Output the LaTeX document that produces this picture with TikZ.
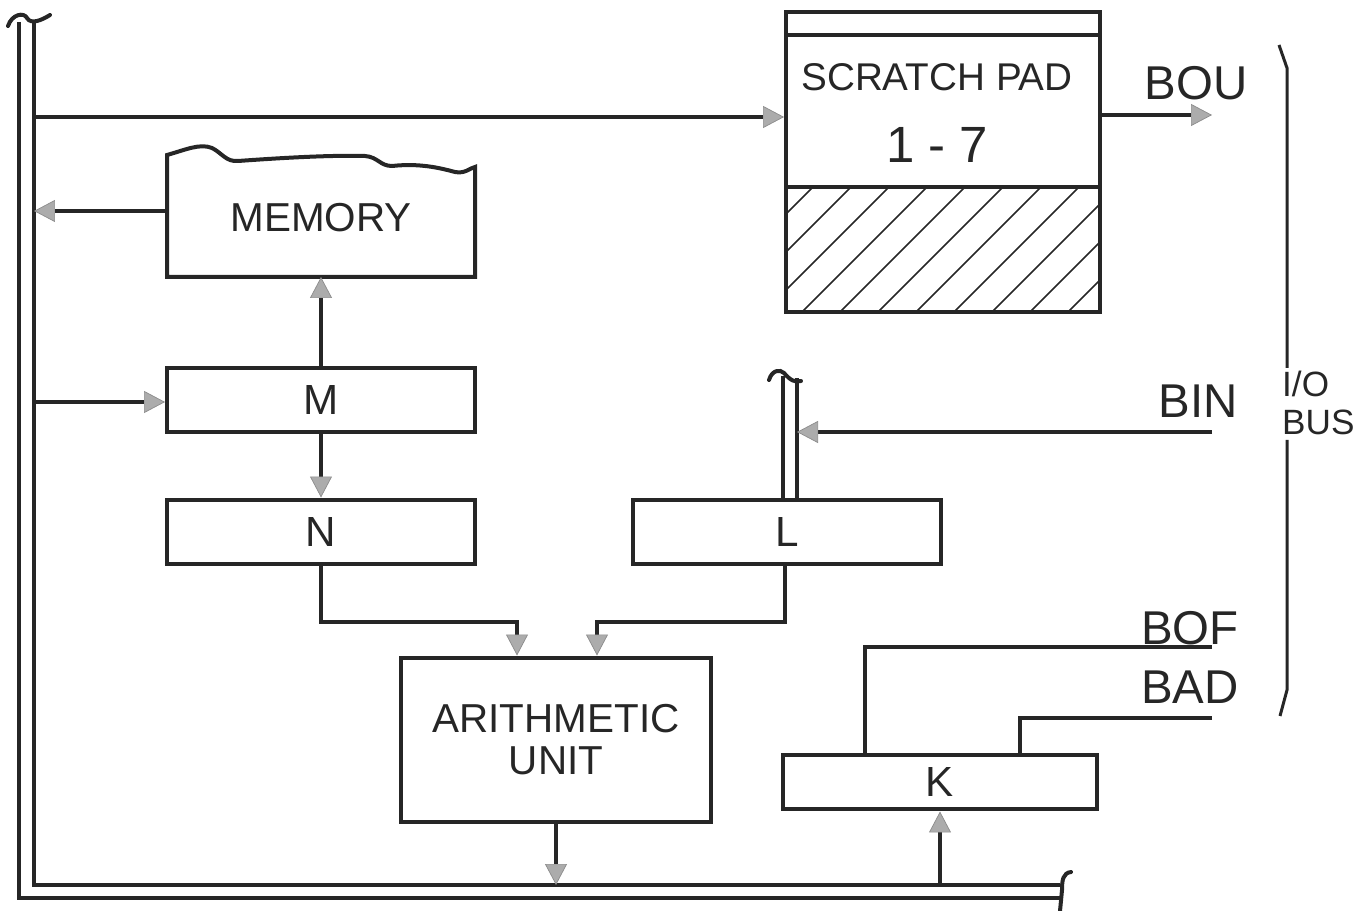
\documentclass[tikz,border=0pt]{standalone}
\usepackage{fontspec}
\setmainfont{Liberation Sans}
\usetikzlibrary{arrows.meta,positioning}
\tikzset{
  wire/.style={line width=0.08cm, draw=black!85},
  arr/.style={wire, -{Triangle[length=0.42cm,width=0.44cm,fill=gray!65,color=gray!90,line width=0.4pt]}},
  regbox/.style={draw=black!85, line width=0.08cm, minimum width=6.16cm, minimum height=1.3cm,
    inner sep=0pt, font=\fontsize{24}{26}\selectfont, text=black!85},
  sig/.style={font=\fontsize{27}{29}\selectfont, text=black!85},
}
\begin{document}
\begin{tikzpicture}[x=0.02cm,y=-0.02cm]
  \useasboundingbox (0,0) rectangle (1355,911);
  % registers and units
  \node[regbox] (M) at (321,400) {M};
  \node[regbox] (N) at (321,532) {N};
  \node[regbox, minimum width=6.18cm] (L) at (787,532) {L};
  \node[regbox, minimum width=6.28cm, minimum height=1.1cm] (K) at (940,782) {K};
  \node[regbox, minimum width=6.22cm, minimum height=3.3cm, align=center,
    font=\fontsize{23}{24}\selectfont] (AU) at (556,740) {ARITHMETIC\\UNIT};
  % memory with torn top edge
  \draw[wire] (167,277) -- (167,155) .. controls (185,150) and (200,143) .. (212,148)
    .. controls (222,153) and (226,162) .. (238,161) .. controls (280,158) and (330,155) .. (365,156)
    .. controls (378,157) and (380,166) .. (392,166) .. controls (420,163) and (440,168) .. (455,172)
    .. controls (465,174) and (470,168) .. (475,167) -- (475,277) -- cycle;
  \node[font=\fontsize{23}{25}\selectfont, text=black!85] (memory) at (321,218) {MEMORY};
  \coordinate (membot) at (321,277);
  \coordinate (memleft) at (167,211);
  % scratch pad
  \node[draw=black!85, line width=0.08cm, minimum width=6.28cm, minimum height=6cm] (pad) at (943,162) {};
  \draw[wire] (786,35) -- (1100,35);
  \draw[wire] (786,187) -- (1100,187);
  \begin{scope}
    \clip (786,187) rectangle (1100,312);
    \foreach \i in {0,...,12}
      \draw[line width=0.03cm, black!85] ({650+\i*38},312) -- ++(130,-130);
  \end{scope}
  \node[font=\fontsize{22}{24}\selectfont, text=black!85] (padtitle) at (937,77) {SCRATCH PAD};
  \node[font=\fontsize{29}{31}\selectfont, text=black!85] (padrange) at (937,145) {1 - 7};
  % main bus
  \draw[wire] (19,22) -- (19,898) -- (1060,898);
  \draw[wire] (34,22) -- (34,885) -- (1060,885);
  \draw[wire, line cap=round] (8,26) .. controls (12,14) and (24,12) .. (27,18)
    .. controls (31,25) and (42,20) .. (50,15);
  \draw[wire, line cap=round] (1071,872) .. controls (1063,873) and (1062,880) .. (1062,890) -- (1060,911);
  \coordinate (bustop) at (34,117);
  \coordinate (busmem) at (34,211);
  \coordinate (busM) at (34,402);
  \coordinate (busAU) at (556,885);
  \coordinate (busK) at (940,885);
  % connectors
  \draw[arr] (bustop) -- (bustop -| pad.west);
  \draw[arr] (memleft) -- (busmem);
  \draw[arr] (busM) -- (busM -| M.west);
  \draw[arr] (M.north) -- (membot);
  \draw[arr] (M.south) -- (N.north);
  \draw[arr] (N.south) |- ([xshift=-0.78cm]AU.north |- 0,622) -- ([xshift=-0.78cm]AU.north);
  \draw[arr] ([xshift=-0.04cm]L.south) |- ([xshift=0.82cm]AU.north |- 0,622) -- ([xshift=0.82cm]AU.north);
  \draw[arr] (AU.south) -- (busAU);
  \draw[arr] (busK) -- (K.south);
  % L input rails
  \draw[wire] (783,500) -- (783,376);
  \draw[wire] (797,500) -- (797,378);
  \draw[wire, line cap=round] (769,380) .. controls (772,370) and (780,369) .. (784,373)
    .. controls (790,380) and (795,383) .. (801,381);
  % I/O bus lines
  \node[sig, anchor=base] (bou) at (1196,100) {BOU};
  \node[sig, anchor=base] (bin) at (1198,418) {BIN};
  \node[sig, anchor=base] (bof) at (1190,644) {BOF};
  \node[sig, anchor=base] (bad) at (1190,703) {BAD};
  \coordinate (bouend) at (1212,115);
  \coordinate (binend) at (1212,432);
  \coordinate (bofend) at (1212,647);
  \coordinate (badend) at (1212,718);
  \draw[arr] (bouend -| pad.east) -- (bouend);
  \draw[arr] (binend) -- (797,432);
  \draw[wire] (bofend) -| ([xshift=-1.5cm]K.north);
  \draw[wire] (badend) -| ([xshift=1.6cm]K.north);
  % brace
  \draw[wire, line width=0.06cm] (1279,45) -- (1287,68) -- (1287,368);
  \draw[wire, line width=0.06cm] (1287,440) -- (1287,690) -- (1280,716);
  \node[font=\fontsize{20}{22}\selectfont, align=left, anchor=west, text=black!85] (iobus) at (1276,403) {I/O\\BUS};
\end{tikzpicture}
\end{document}
